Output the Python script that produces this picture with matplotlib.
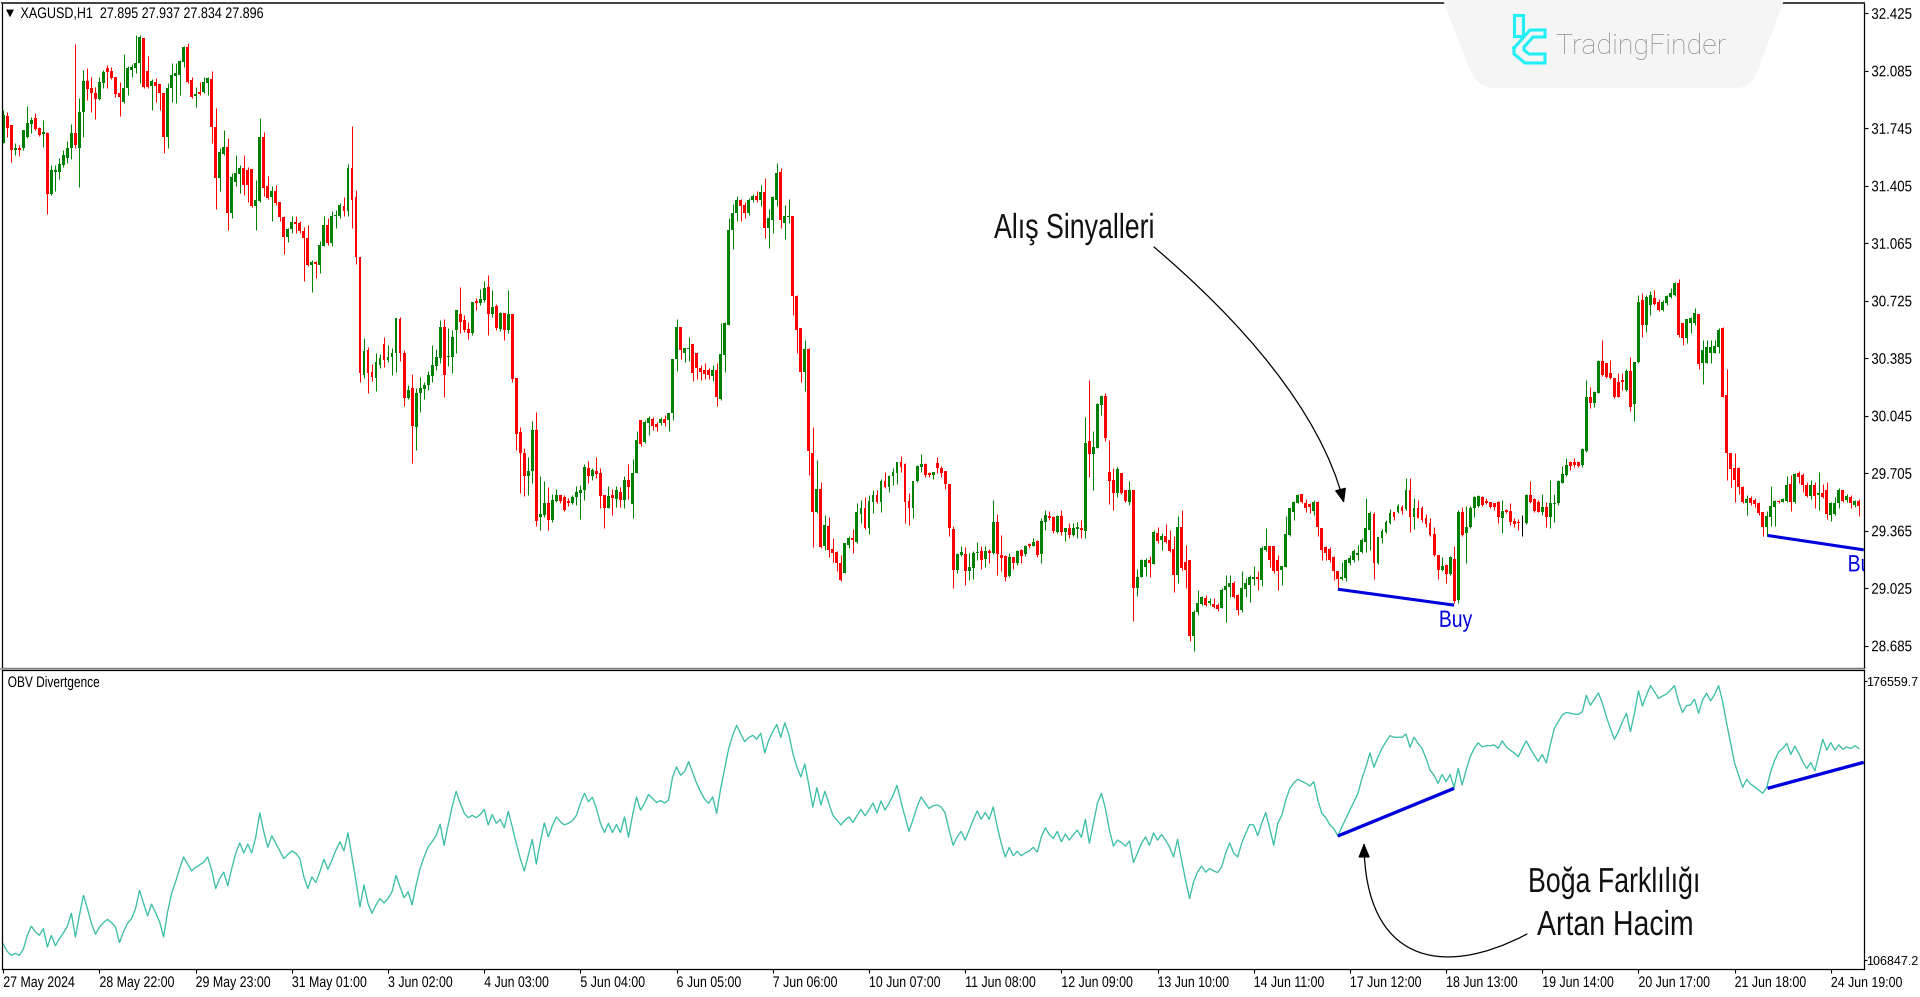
import matplotlib
matplotlib.use("Agg")
import matplotlib.pyplot as plt
import numpy as np
from matplotlib.path import Path
from matplotlib.patches import PathPatch, FancyArrowPatch
from matplotlib.patheffects import AbstractPathEffect
from matplotlib.transforms import Affine2D
from matplotlib.lines import Line2D

HIGH = [31.854,31.844,31.765,31.661,31.647,31.736,31.879,31.814,31.838,31.755,
31.795,31.722,31.529,31.529,31.568,31.617,31.667,31.769,32.242,31.923,
32.090,32.100,32.051,31.988,32.051,32.090,32.118,32.110,32.047,32.021,
32.185,32.116,32.126,32.297,32.297,32.281,32.173,32.035,32.041,32.006,
31.956,32.015,32.130,32.130,32.149,32.232,32.248,32.051,31.992,32.021,
32.051,32.051,32.086,31.864,31.627,31.736,31.687,31.480,31.588,31.529,
31.588,31.519,31.503,31.440,31.805,31.722,31.460,31.405,31.411,31.312,
31.224,31.155,31.224,31.224,31.194,31.164,31.174,30.967,30.963,31.076,
31.224,31.214,31.253,31.259,31.302,31.338,31.535,31.761,31.381,
30.986,30.503,30.450,30.351,30.414,30.410,30.513,30.463,30.444,30.621,30.627,
30.434,30.227,30.292,30.207,30.272,30.247,30.312,30.463,30.438,30.611,
30.615,30.562,30.552,30.670,30.804,30.641,30.601,30.720,30.739,30.792,
30.844,30.877,30.788,30.706,30.660,30.655,30.788,30.647,30.270,29.977,
29.853,29.804,30.014,30.069,29.689,29.662,29.626,29.583,29.610,29.577,
29.577,29.557,29.577,29.632,29.636,29.760,29.778,29.735,29.804,29.735,
29.577,29.632,29.610,29.632,29.626,29.689,29.760,29.788,29.957,
30.020,30.020,30.044,30.036,30.010,30.036,30.050,30.064,30.381,30.615,30.568,
30.444,30.513,30.469,30.418,30.345,30.359,30.326,30.345,30.359,30.592,30.601,
31.214,31.298,31.346,31.326,31.312,31.332,31.357,31.377,31.411,31.450,
31.267,31.346,31.539,31.509,31.292,31.326,31.227,30.761,30.564,
30.493,30.444,29.977,29.784,29.652,29.459,29.445,29.321,29.248,29.222,
29.295,29.335,29.374,29.528,29.547,29.563,29.577,29.607,29.607,29.670,
29.715,29.695,29.735,29.774,29.809,29.764,29.587,29.662,29.754,29.819,
29.764,29.715,29.715,29.804,29.748,29.721,29.642,29.394,29.236,29.272,
29.268,29.232,29.248,29.301,29.272,29.276,29.256,29.547,29.465,29.341,
29.222,29.232,29.209,29.252,29.256,29.281,29.291,29.321,29.311,29.439,
29.488,29.484,29.453,29.459,29.488,29.380,29.410,29.410,29.419,29.429,
30.036,30.257,29.957,30.119,30.168,30.182,29.902,29.735,29.744,29.709,
29.607,29.662,29.607,29.138,29.197,29.203,29.216,29.370,29.390,29.350,
29.404,29.370,29.331,29.453,29.488,29.281,29.193,28.897,29.015,28.980,
28.986,28.966,28.966,28.937,29.025,29.104,29.104,29.065,28.992,29.124,
29.084,29.104,29.157,29.124,29.272,29.380,29.276,29.276,29.222,
29.157,29.453,29.498,29.538,29.583,29.583,29.551,29.528,29.547,29.543,
29.384,29.272,29.268,29.213,29.128,29.183,29.197,29.222,29.256,29.281,
29.321,29.557,29.484,29.478,29.327,29.374,29.429,29.492,29.478,29.524,
29.518,29.675,29.675,29.557,29.547,29.512,29.465,29.439,29.386,29.222,
29.209,29.169,29.213,29.272,29.488,29.508,29.512,29.512,29.571,29.577,
29.571,29.557,29.537,29.528,29.543,29.547,29.492,29.528,29.439,29.433,
29.459,29.583,29.662,29.557,29.547,29.583,29.532,29.666,29.583,29.666,
29.748,29.794,29.780,29.794,29.774,29.853,30.257,30.213,30.194,30.375,
30.493,30.355,30.375,30.270,30.300,30.296,30.320,30.395,30.365,30.759,
30.769,30.759,30.785,30.789,30.733,30.729,30.759,30.798,30.838,30.852,
30.592,30.615,30.631,30.680,30.647,30.493,30.493,30.493,30.493,30.562,
30.572,30.320,29.827,29.827,29.744,29.630,29.577,29.571,29.557,29.532,
29.478,29.484,29.630,29.547,29.547,29.557,29.689,29.695,29.705,29.721,
29.709,29.656,29.666,29.656,29.715,29.642,29.656,29.537,29.563,29.616,
29.607,29.583,29.577,29.547,29.551]

LOW = [31.657,31.696,31.543,31.588,31.582,31.617,31.686,31.716,31.736,31.700,
31.637,31.237,31.352,31.377,31.444,31.519,31.539,31.562,31.627,31.397,
31.696,31.913,31.844,31.799,31.913,31.982,31.982,32.035,31.933,31.820,
31.893,31.943,32.051,32.071,32.015,31.982,31.982,31.854,31.903,31.854,
31.598,31.627,31.903,31.893,31.943,32.110,32.015,31.923,31.868,31.943,
31.952,31.943,31.657,31.267,31.377,31.588,31.145,31.214,31.401,31.361,
31.352,31.312,31.279,31.141,31.312,31.342,31.326,31.194,31.292,31.194,
31.001,31.070,31.125,31.125,31.125,30.839,30.928,30.774,30.859,30.889,
31.046,31.056,31.050,31.155,31.214,31.224,31.224,31.155,30.944,
30.247,30.266,30.182,30.253,30.194,30.326,30.335,30.365,30.286,30.306,30.371,
30.105,30.142,29.764,29.843,30.069,30.142,30.198,30.247,30.316,30.355,
30.158,30.339,30.300,30.418,30.532,30.542,30.497,30.523,30.670,30.700,
30.720,30.523,30.631,30.552,30.548,30.493,30.536,30.247,29.843,29.591,
29.573,29.577,29.646,29.394,29.370,29.449,29.370,29.419,29.537,29.528,
29.484,29.514,29.524,29.518,29.433,29.547,29.646,29.666,29.675,29.502,
29.384,29.498,29.459,29.508,29.508,29.498,29.551,29.439,29.705,
29.867,29.882,29.932,29.961,29.957,29.991,29.985,29.957,30.020,30.312,30.379,
30.365,30.371,30.253,30.263,30.257,30.261,30.261,30.253,30.105,30.138,30.306,
30.583,31.030,31.194,31.194,31.214,31.233,31.312,31.312,31.283,31.095,
31.036,31.125,31.283,31.155,31.089,31.184,30.642,30.414,30.247,
30.194,29.695,29.268,29.469,29.262,29.252,29.209,29.183,29.124,29.065,
29.114,29.262,29.232,29.295,29.410,29.374,29.344,29.469,29.528,29.473,
29.616,29.597,29.636,29.642,29.715,29.410,29.400,29.439,29.656,29.715,
29.685,29.681,29.670,29.709,29.685,29.612,29.331,29.025,29.118,29.216,
29.045,29.071,29.081,29.193,29.138,29.153,29.173,29.228,29.104,29.124,
29.065,29.094,29.138,29.163,29.177,29.213,29.262,29.272,29.209,29.177,
29.370,29.429,29.350,29.350,29.341,29.307,29.321,29.331,29.321,29.321,
29.321,29.681,29.607,29.853,30.050,29.898,29.524,29.488,29.567,29.583,
29.534,29.518,28.834,28.980,29.090,29.098,29.090,29.169,29.291,29.252,
29.291,29.242,29.002,29.055,29.134,29.025,28.710,28.651,28.868,28.927,
28.917,28.923,28.907,28.893,28.907,28.828,28.976,28.966,28.868,28.887,
28.976,28.946,29.045,29.012,29.039,29.248,29.153,29.114,29.012,
29.045,29.149,29.331,29.429,29.528,29.528,29.473,29.469,29.459,29.331,
29.193,29.189,29.183,29.075,29.019,29.071,29.065,29.163,29.183,29.193,
29.232,29.242,29.252,29.079,29.169,29.291,29.354,29.406,29.429,29.469,
29.465,29.488,29.360,29.374,29.439,29.419,29.390,29.331,29.216,29.079,
29.124,29.055,29.104,28.937,28.937,29.331,29.177,29.380,29.449,29.508,
29.512,29.524,29.498,29.488,29.410,29.354,29.469,29.400,29.386,29.370,
29.335,29.406,29.528,29.478,29.473,29.459,29.390,29.384,29.419,29.518,
29.646,29.689,29.725,29.740,29.744,29.744,29.833,30.093,30.099,30.178,
30.280,30.266,30.261,30.148,30.154,30.198,30.194,30.075,30.016,30.355,
30.513,30.542,30.641,30.700,30.666,30.666,30.700,30.739,30.753,30.513,
30.463,30.473,30.532,30.582,30.320,30.231,30.355,30.359,30.414,30.414,
30.158,29.666,29.626,29.534,29.583,29.528,29.459,29.518,29.508,29.459,
29.335,29.331,29.394,29.394,29.528,29.532,29.537,29.484,29.528,29.646,
29.597,29.567,29.551,29.498,29.488,29.557,29.433,29.425,29.459,29.498,
29.532,29.537,29.502,29.508,29.453]

OPEN = [31.657,31.818,31.765,31.617,31.631,31.627,31.696,31.771,31.805,31.746,
31.710,31.716,31.355,31.484,31.486,31.525,31.568,31.627,31.720,31.627,
31.844,32.025,31.982,31.956,31.917,32.011,32.100,32.086,32.047,31.956,
31.903,31.982,32.090,32.100,32.130,32.281,32.086,31.996,32.021,32.006,
31.956,31.696,31.982,32.055,32.061,32.136,32.224,32.031,31.937,31.962,
31.960,32.015,32.037,31.755,31.454,31.594,31.637,31.243,31.430,31.476,
31.513,31.499,31.503,31.287,31.316,31.696,31.401,31.338,31.377,31.312,
31.218,31.105,31.149,31.188,31.184,31.139,31.099,30.938,30.957,30.938,
31.050,31.174,31.066,31.224,31.224,31.287,31.257,31.509,31.338,
30.986,30.286,30.434,30.302,30.266,30.345,30.467,30.375,30.391,30.414,30.615,
30.414,30.148,30.207,29.981,30.178,30.203,30.227,30.280,30.339,30.385,
30.572,30.391,30.391,30.552,30.647,30.611,30.556,30.532,30.725,30.710,
30.729,30.804,30.647,30.694,30.556,30.655,30.552,30.647,30.270,29.951,
29.823,29.689,29.721,29.961,29.445,29.459,29.528,29.429,29.543,29.577,
29.567,29.541,29.528,29.567,29.591,29.607,29.735,29.689,29.721,29.709,
29.577,29.502,29.577,29.551,29.597,29.547,29.666,29.524,29.709,
30.020,29.892,30.000,30.024,29.997,30.000,30.024,30.020,30.060,30.379,30.568,
30.414,30.438,30.469,30.418,30.329,30.316,30.316,30.282,30.316,30.142,30.404,
30.583,31.145,31.243,31.322,31.292,31.243,31.322,31.342,31.322,31.371,
31.155,31.204,31.322,31.484,31.184,31.220,31.224,30.755,30.564,
30.306,30.438,29.827,29.478,29.612,29.276,29.394,29.256,29.238,29.177,
29.118,29.281,29.321,29.301,29.465,29.498,29.380,29.532,29.577,29.537,
29.662,29.626,29.689,29.705,29.770,29.760,29.541,29.502,29.662,29.744,
29.758,29.705,29.695,29.764,29.738,29.719,29.640,29.376,29.134,29.222,
29.228,29.124,29.147,29.232,29.248,29.197,29.248,29.232,29.415,29.222,
29.216,29.098,29.209,29.177,29.252,29.228,29.287,29.276,29.307,29.228,
29.419,29.453,29.445,29.360,29.455,29.360,29.380,29.341,29.374,29.384,
29.366,29.896,29.819,29.853,30.109,30.162,29.715,29.666,29.591,29.705,
29.607,29.532,29.607,29.025,29.094,29.153,29.193,29.169,29.350,29.311,
29.331,29.311,29.256,29.104,29.386,29.183,29.193,28.740,28.887,28.933,
28.966,28.937,28.933,28.923,28.911,29.012,29.035,29.055,28.986,28.897,
29.020,29.045,29.079,29.090,29.075,29.252,29.276,29.276,29.193,
29.130,29.153,29.341,29.478,29.528,29.581,29.528,29.524,29.484,29.537,
29.380,29.268,29.256,29.209,29.124,29.079,29.084,29.177,29.193,29.222,
29.242,29.301,29.370,29.465,29.173,29.321,29.360,29.413,29.473,29.478,
29.508,29.492,29.603,29.445,29.502,29.498,29.439,29.410,29.346,29.222,
29.134,29.163,29.110,29.197,28.957,29.473,29.350,29.386,29.498,29.512,
29.563,29.543,29.532,29.528,29.534,29.439,29.488,29.484,29.425,29.419,
29.416,29.410,29.577,29.551,29.532,29.478,29.508,29.445,29.524,29.528,
29.650,29.695,29.774,29.774,29.770,29.754,29.839,30.154,30.119,30.182,
30.371,30.355,30.296,30.266,30.247,30.257,30.198,30.312,30.115,30.365,
30.729,30.582,30.700,30.739,30.720,30.670,30.714,30.749,30.759,30.832,
30.592,30.503,30.592,30.592,30.647,30.355,30.355,30.418,30.418,30.450,
30.562,30.168,29.827,29.735,29.735,29.626,29.528,29.557,29.547,29.528,
29.478,29.390,29.449,29.508,29.541,29.537,29.543,29.640,29.532,29.705,
29.695,29.636,29.571,29.636,29.577,29.587,29.606,29.459,29.465,29.528,
29.603,29.547,29.567,29.518,29.543]

CLOSE = [31.824,31.749,31.617,31.627,31.617,31.732,31.775,31.795,31.740,31.706,
31.722,31.357,31.499,31.499,31.535,31.588,31.627,31.720,31.647,31.844,
32.027,31.976,31.952,31.917,32.017,32.075,32.075,32.041,31.948,31.929,
31.982,32.100,32.110,32.130,32.283,31.992,31.992,32.025,31.996,31.956,
31.696,31.982,32.061,32.071,32.143,32.228,32.017,31.929,31.948,31.948,
32.017,32.041,31.751,31.454,31.602,31.637,31.243,31.456,31.480,31.513,
31.411,31.411,31.287,31.318,31.696,31.391,31.332,31.377,31.306,31.218,
31.105,31.149,31.188,31.180,31.135,31.099,30.938,30.957,30.944,31.056,
31.174,31.066,31.227,31.233,31.292,31.257,31.509,31.322,30.983,
30.296,30.430,30.300,30.272,30.365,30.385,30.375,30.394,30.414,30.621,30.414,
30.148,30.198,29.985,30.178,30.207,30.227,30.286,30.345,30.391,30.572,
30.286,30.398,30.513,30.670,30.601,30.552,30.532,30.720,30.710,30.733,
30.798,30.647,30.686,30.562,30.655,30.552,30.647,30.261,29.937,29.823,
29.689,29.721,29.961,29.425,29.465,29.528,29.429,29.547,29.577,29.543,
29.488,29.528,29.567,29.597,29.607,29.744,29.689,29.725,29.701,29.573,
29.502,29.571,29.557,29.603,29.547,29.666,29.626,29.709,29.902,
29.878,30.010,30.030,29.985,29.977,30.026,30.000,30.060,30.381,30.568,30.434,
30.444,30.444,30.296,30.326,30.306,30.290,30.286,30.316,30.158,30.408,30.592,
31.145,31.243,31.322,31.287,31.243,31.322,31.342,31.322,31.367,31.155,
31.214,31.338,31.480,31.204,31.224,31.224,30.751,30.554,30.306,
30.438,29.837,29.478,29.612,29.268,29.396,29.252,29.232,29.173,29.071,
29.291,29.321,29.311,29.473,29.498,29.380,29.541,29.577,29.532,29.662,
29.626,29.689,29.711,29.770,29.744,29.537,29.502,29.662,29.748,29.760,
29.695,29.695,29.715,29.735,29.709,29.640,29.380,29.134,29.228,29.238,
29.124,29.153,29.232,29.242,29.189,29.248,29.236,29.415,29.228,29.203,
29.094,29.212,29.173,29.248,29.216,29.276,29.276,29.301,29.222,29.425,
29.459,29.439,29.366,29.453,29.360,29.380,29.341,29.380,29.390,29.370,
29.882,29.819,29.859,30.115,30.162,29.912,29.662,29.591,29.729,29.587,
29.538,29.603,29.025,29.094,29.193,29.193,29.173,29.360,29.305,29.335,
29.301,29.248,29.104,29.386,29.144,29.134,28.740,28.887,28.937,28.972,
28.927,28.952,28.913,28.901,29.016,29.041,29.055,28.976,28.897,29.025,
29.055,29.090,29.090,29.079,29.262,29.272,29.193,29.124,29.124,
29.157,29.346,29.498,29.532,29.577,29.537,29.498,29.508,29.537,29.386,
29.252,29.232,29.193,29.124,29.079,29.090,29.193,29.203,29.248,29.232,
29.311,29.380,29.469,29.173,29.327,29.366,29.419,29.469,29.449,29.514,
29.484,29.603,29.449,29.498,29.443,29.429,29.406,29.341,29.222,29.134,
29.157,29.110,29.209,28.947,29.478,29.341,29.390,29.498,29.567,29.571,
29.518,29.528,29.508,29.508,29.449,29.484,29.478,29.419,29.406,29.410,
29.416,29.577,29.532,29.484,29.478,29.508,29.445,29.528,29.528,29.662,
29.699,29.754,29.748,29.754,29.748,29.847,30.154,30.119,30.188,30.371,
30.286,30.276,30.266,30.158,30.158,30.247,30.312,30.099,30.365,30.720,
30.582,30.749,30.759,30.706,30.670,30.720,30.753,30.769,30.832,30.523,
30.503,30.615,30.621,30.651,30.351,30.434,30.450,30.450,30.458,30.552,
30.158,29.827,29.729,29.666,29.626,29.537,29.551,29.528,29.522,29.469,
29.390,29.453,29.512,29.543,29.532,29.551,29.636,29.537,29.699,29.685,
29.636,29.571,29.636,29.571,29.587,29.567,29.465,29.528,29.528,29.606,
29.543,29.573,29.528,29.543,29.512]

OBV_K = [110.8,109.0,108.0,108.5,108.0,109.5,113.0,115.3,113.9,113.0,
114.7,110.1,113.0,110.4,112.2,113.6,115.3,118.5,112.6,118.0,
123.0,119.7,116.0,113.3,115.1,116.2,117.0,116.2,115.1,111.2,
113.9,116.0,117.2,119.7,124.3,121.0,117.9,120.8,118.7,116.4,
112.6,118.9,123.5,126.4,129.7,132.6,130.8,129.1,130.0,130.6,
131.3,132.6,129.3,124.7,127.2,128.8,125.4,129.7,133.5,136.1,
133.6,135.8,133.6,137.6,143.6,138.9,135.0,137.9,136.0,134.1,
132.2,133.2,134.1,133.5,132.2,127.6,124.7,127.6,126.2,128.9,
132.0,129.5,131.8,134.3,136.4,134.1,138.6,132.6,126.6,120.1,
125.6,121.0,118.5,120.6,122.2,121.1,122.2,123.9,128.0,125.1,
122.4,123.9,120.6,125.6,129.7,132.6,135.1,136.4,138.0,140.8,
135.5,140.6,145.1,149.0,146.0,143.6,142.4,143.0,142.4,143.2,
144.5,140.6,143.2,141.0,142.0,139.9,144.0,140.1,136.0,132.2,
129.1,133.0,137.0,130.8,136.4,141.1,137.6,140.4,142.6,141.4,
140.6,141.0,141.6,143.0,146.0,148.5,146.4,147.5,144.7,141.0,
138.7,141.0,138.7,140.7,138.7,142.6,137.5,143.0,147.6,144.3,
146.0,148.2,147.2,146.2,146.7,146.1,146.8,152.6,155.1,153.0,
153.9,156.4,153.7,151.0,148.9,147.0,146.0,147.6,143.5,149.7,
154.7,159.7,163.0,165.5,163.3,161.4,162.4,163.0,162.0,163.5,
158.6,161.8,163.9,165.7,162.5,166.1,163.3,158.5,155.1,152.6,
155.8,150.6,145.0,149.9,145.6,149.0,146.0,143.0,141.8,140.6,
141.8,142.6,141.2,142.9,144.5,142.9,144.3,146.1,143.6,146.6,
144.3,146.0,148.0,150.5,146.4,142.6,139.0,142.0,145.1,147.6,
146.1,144.7,145.4,145.6,145.1,143.6,139.3,135.5,137.6,139.0,
136.8,139.3,141.8,144.1,142.0,143.7,142.0,145.1,140.1,136.0,
132.6,135.0,132.9,134.0,132.9,133.6,134.1,135.0,133.8,137.6,
139.9,138.2,137.2,139.0,136.4,138.3,136.8,138.2,139.3,137.5,
142.0,136.0,141.0,146.0,148.5,144.7,139.3,135.3,136.8,136.2,
135.3,136.6,131.2,133.6,136.0,137.6,135.5,138.6,136.8,138.2,
136.8,135.1,132.6,137.0,131.8,126.8,122.2,126.4,128.9,130.3,
128.8,129.7,129.1,128.7,130.1,133.5,136.1,133.6,132.6,136.0,
138.5,140.7,140.6,137.9,141.0,143.7,139.7,135.5,141.0,143.0,
146.8,149.7,151.1,152.0,151.5,151.0,150.3,151.4,146.8,143.5,
142.4,140.6,139.7,137.8,140.1,142.2,144.3,146.4,148.5,152.2,
155.1,158.6,155.0,157.6,159.7,161.4,162.9,162.5,162.5,162.5,
163.3,160.0,162.5,161.0,159.7,157.2,154.3,153.0,151.0,153.2,
151.4,153.2,149.9,154.7,150.6,154.3,157.6,159.7,161.1,160.1,
160.4,160.4,160.6,159.7,161.6,160.1,159.3,158.6,157.6,159.7,
161.6,159.7,158.0,156.5,158.2,156.1,160.6,164.7,166.4,168.1,
168.7,168.5,168.3,168.2,168.9,173.0,170.5,172.0,173.6,171.0,
167.6,164.7,162.0,163.9,166.4,168.5,163.9,168.5,174.1,170.3,
173.0,175.4,173.9,172.2,172.8,173.3,174.3,175.4,171.4,168.7,
170.4,170.6,172.0,168.5,171.8,173.5,171.6,173.2,175.4,171.4,
166.0,161.0,156.0,153.0,150.0,152.0,150.8,150.1,149.3,148.5,
150.0,153.9,156.8,158.9,159.7,161.0,158.2,160.3,158.5,156.4,
154.7,156.2,154.1,158.0,162.0,159.3,161.2,159.3,160.6,159.5,
160.1,159.7,160.4,159.7]

PRICE_TICKS = [32.425,32.085,31.745,31.405,31.065,30.725,30.385,30.045,29.705,29.365,29.025,28.685]
OBV_TICKS = [176559.7,106847.2]
DATE_LABELS = ['27 May 2024','28 May 22:00','29 May 23:00','31 May 01:00','3 Jun 02:00','4 Jun 03:00',
'5 Jun 04:00','6 Jun 05:00','7 Jun 06:00','10 Jun 07:00','11 Jun 08:00','12 Jun 09:00','13 Jun 10:00',
'14 Jun 11:00','17 Jun 12:00','18 Jun 13:00','19 Jun 14:00','20 Jun 17:00','21 Jun 18:00','24 Jun 19:00']
DATE_BARS = list(range(0, 480, 24))
PRICE_DIV = [([333,362],[29.019,28.925]), ([440.2,464.2],[29.337,29.252])]
OBV_DIV = [([333,362],[137.83,149.74]), ([440.2,464.2],[149.74,156.24])]
BUY_MARKS = [(358.2,28.832),(460.2,29.160)]


class Condense(AbstractPathEffect):
    """Draws a real Text narrower, about its left edge (the chart's font is a narrow one)."""
    def __init__(self, sx):
        super().__init__()
        self.sx = sx

    def draw_path(self, renderer, gc, tpath, affine, rgbFace=None):
        renderer.draw_path(gc, tpath, Affine2D().scale(self.sx, 1) + affine, rgbFace)


W, H = 1920, 997
plt.rcParams['font.family'] = ['Liberation Sans', 'DejaVu Sans']
fig = plt.figure(figsize=(W/100, H/100), dpi=100, facecolor='white')

def box(l, t, r, b):
    return [l/W, 1-b/H, (r-l)/W, (b-t)/H]

ax = fig.add_axes(box(2.4, 3, 1863.7, 667.7))
ax2 = fig.add_axes(box(2.4, 670, 1863.7, 969))
n = len(CLOSE)
xs = np.arange(n)
o, c, hi, lo = map(np.array, (OPEN[:n], CLOSE, HIGH[:n], LOW[:n]))
GREEN, RED = '#008000', '#ff0000'
cols = [('#000000' if a == b else (GREEN if b > a else RED)) for a, b in zip(o, c)]
ax.vlines(xs, lo, hi, colors=cols, lw=0.72)
ax.bar(xs, np.maximum(np.abs(c-o), 0.001), bottom=np.minimum(o, c), width=0.72, color=cols, linewidth=0)
BLUE = '#0000dd'
for xx, yy in PRICE_DIV:
    ax.plot(xx, yy, color=BLUE, lw=2.2, solid_capstyle='butt')
for xb, yb in BUY_MARKS:
    ax.text(xb, yb, 'Buy', color=BLUE, fontsize=17, ha='left', va='center', clip_on=True,
            path_effects=[Condense(0.82)])
ax.set_xlim(-0.22, 464.2)
ax.set_ylim(28.555, 32.486)
ax.yaxis.tick_right()
ax.set_yticks(PRICE_TICKS)
ax.set_yticklabels([f'{v:.3f}' for v in PRICE_TICKS])
ax.set_xticks([])

ax2.plot(xs, np.array(OBV_K[:n])*1000, color='#3dbfa5', lw=0.95)
for xx, yy in OBV_DIV:
    ax2.plot(xx, np.array(yy)*1000, color=BLUE, lw=2.4, solid_capstyle='butt')
ax2.set_xlim(-0.22, 464.2)
ax2.set_ylim(104600, 179310)
ax2.yaxis.tick_right()
ax2.set_yticks(OBV_TICKS)
ax2.set_yticklabels([f'{v:.1f}' for v in OBV_TICKS])
ax2.set_xticks(DATE_BARS)
ax2.set_xticklabels(DATE_LABELS, ha='left')

for a in (ax, ax2):
    a.tick_params(axis='y', length=3, width=0.8, pad=2.5, labelsize=11, colors='black')
    a.tick_params(axis='x', length=3, width=0.8, pad=2, labelsize=11, colors='black')
    for s in a.spines.values():
        s.set_linewidth(0.9)
        s.set_color('black')
ax2.tick_params(axis='y', length=2, pad=0, labelsize=9)
for lbl in ax.get_yticklabels():
    lbl.set_path_effects([Condense(0.87)])
date_lbls = ax2.get_xticklabels()
for lbl in date_lbls:
    lbl.set_path_effects([Condense(0.81)])
date_lbls[-1].set_fontsize(10.4)
date_lbls[-1].set_path_effects([Condense(0.857)])
ax.spines['top'].set_color('#404040')
ax.spines['top'].set_linewidth(1.4)
fig.add_artist(Line2D([0, 1863.7/W], [1-668.5/H]*2, color='#9a9a9a', lw=1.2))

# pixel-based transform for the decorations drawn over the chart
px = Affine2D().scale(1, -1).translate(0, H)

fig.text(6/W, 1-13/H, '\u25BC', fontsize=7.5, family='DejaVu Sans', va='center', ha='left')
fig.text(20.5/W, 1-14/H, 'XAGUSD,H1  27.895 27.937 27.834 27.896', fontsize=11, va='center', ha='left',
         path_effects=[Condense(0.82)])
fig.text(7.7/W, 1-683/H, 'OBV Divertgence', fontsize=11, va='center', ha='left',
         path_effects=[Condense(0.78)])

# TradingFinder banner
banner = Path([(1443, 0), (1784, 0), (1758, 70), (1752, 88), (1735, 88), (1495, 88), (1478, 88), (1470, 70), (1443, 0)],
              [Path.MOVETO, Path.LINETO, Path.LINETO, Path.CURVE3, Path.CURVE3, Path.LINETO, Path.CURVE3, Path.CURVE3, Path.LINETO])
fig.add_artist(PathPatch(banner, transform=px, facecolor='#f5f5f5', edgecolor='none', zorder=5))
CY = '#22eef5'
for seg in ([(1514, 15), (1523, 15), (1523, 36), (1514, 36), (1514, 15)],
            [(1514, 48), (1530, 30), (1545, 30), (1545, 37), (1533, 37), (1524, 47), (1524, 50), (1529, 54), (1545, 54), (1545, 63), (1525, 63), (1514, 54), (1514, 48)]):
    xa, ya = zip(*seg)
    fig.add_artist(Line2D(xa, ya, transform=px, color=CY, lw=2.2, zorder=6, solid_joinstyle='miter'))
fig.text(1555/W, 1-53.5/H, 'TradingFinder', fontsize=20.4, family=['Roboto', 'DejaVu Sans'], fontweight='light',
         color='#8c8c8c', va='baseline', ha='left', zorder=6)

# Commentary text and arrows
TXT = dict(color='#111111', ha='left', va='baseline', fontsize=25, zorder=7)
fig.text(994/W, 1-238/H, 'Al\u0131\u015f Sinyalleri', path_effects=[Condense(0.77)], **TXT)
fig.text(1528/W, 1-892/H, 'Bo\u011fa Farkl\u0131l\u0131\u011f\u0131', path_effects=[Condense(0.77)], **TXT)
fig.text(1537/W, 1-935/H, 'Artan Hacim', path_effects=[Condense(0.82)], **TXT)
for pts in ([(1154, 247), (1240, 320), (1320, 410), (1344, 503)],
            [(1527, 934), (1440, 980), (1365, 960), (1364, 843)]):
    path = Path(pts, [Path.MOVETO, Path.CURVE4, Path.CURVE4, Path.CURVE4])
    arrow = FancyArrowPatch(path=path, arrowstyle='-|>,head_length=0.55,head_width=0.22', mutation_scale=16,
                            lw=0.9, color='black', transform=px, zorder=7)
    fig.add_artist(arrow)

fig.savefig('out.png', dpi=100, facecolor='white')
